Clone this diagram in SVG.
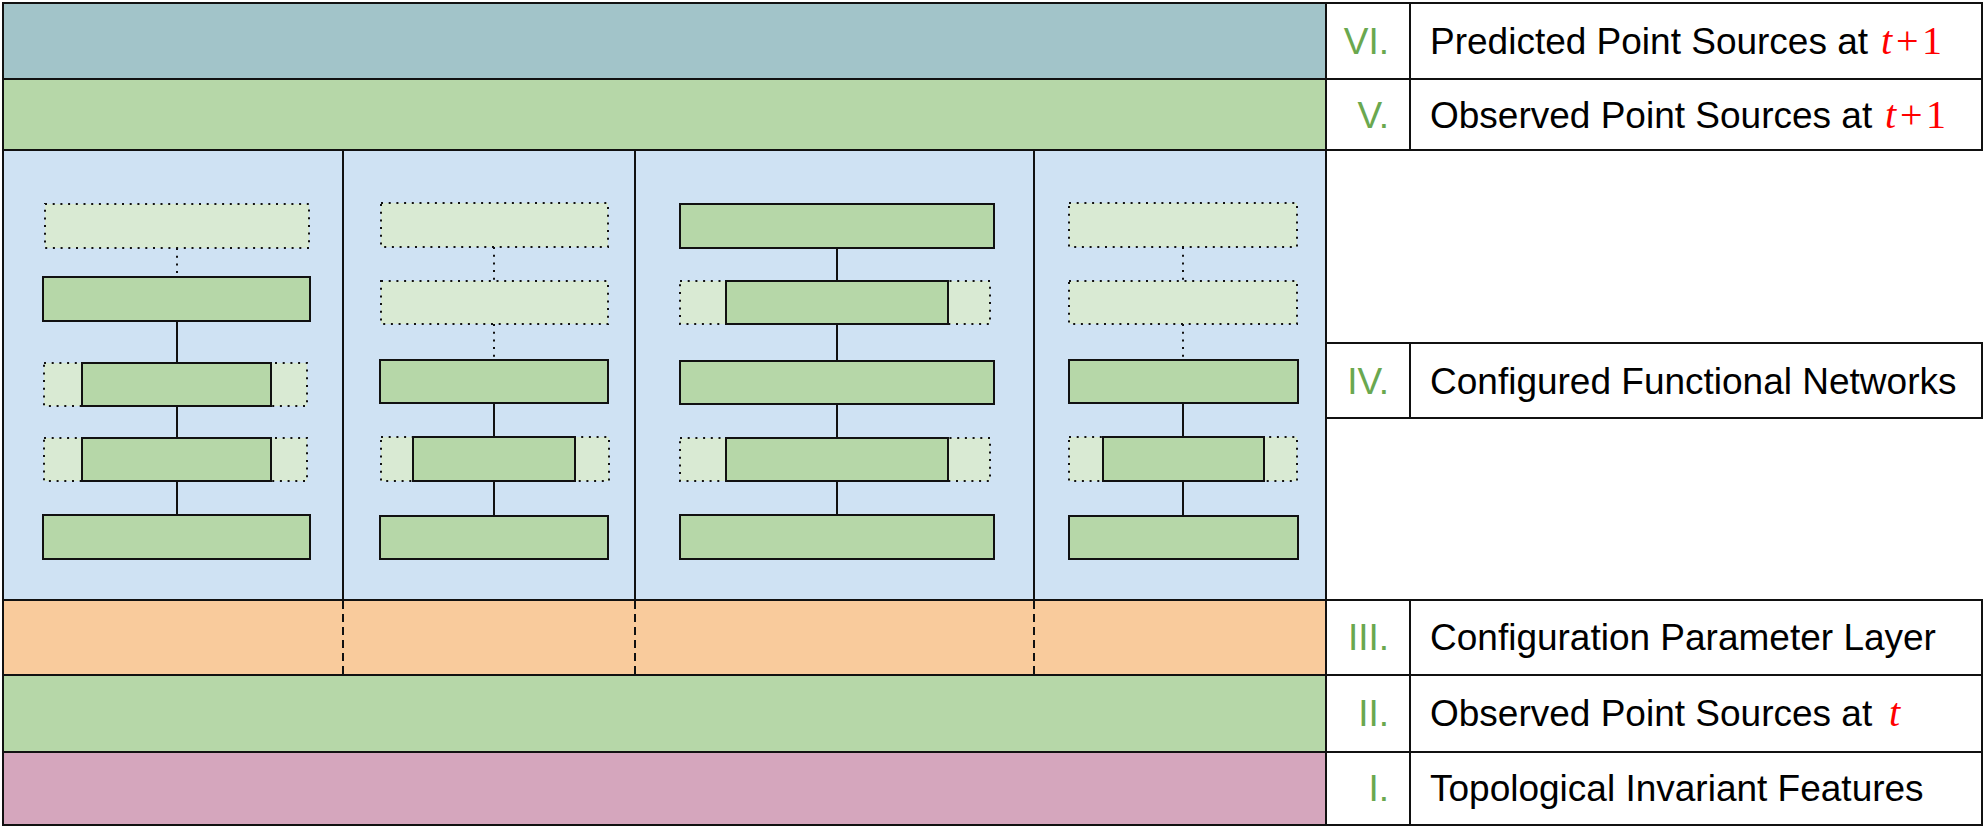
<svg xmlns="http://www.w3.org/2000/svg" width="1984" height="827" viewBox="0 0 1984 827">
<style>
.band{stroke:#111;stroke-width:2}
.div{stroke:#111;stroke-width:2;fill:none}
.dash{stroke:#111;stroke-width:2;stroke-dasharray:8 5;fill:none}
.solid{fill:#b6d7a8;stroke:#111;stroke-width:2}
.dot{fill:#d9ead3;stroke:#111;stroke-width:2;stroke-dasharray:2 5.7}
.cs{stroke:#111;stroke-width:2;fill:none}
.cd{stroke:#111;stroke-width:2;stroke-dasharray:2 5.7;fill:none}
.cell{fill:#fff;stroke:#111;stroke-width:2}
.lbl{font-family:"Liberation Sans",Arial,sans-serif;font-size:37px;fill:#000}
.num{font-family:"Liberation Sans",Arial,sans-serif;font-size:37px;fill:#6aa84f;text-anchor:end}
.m{font-family:"Liberation Serif","Times New Roman",serif;font-size:40px;font-style:italic;fill:#ff0000}
.r{font-family:"Liberation Serif","Times New Roman",serif;font-size:40px;fill:#ff0000}
</style>
<rect width="1984" height="827" fill="#fff"/>
<g id="bands">
<rect id="band-VI" class="band" x="3" y="3" width="1323" height="76" fill="#a2c4c9"/>
<rect id="band-V" class="band" x="3" y="79" width="1323" height="71" fill="#b6d7a8"/>
<rect id="band-IV" class="band" x="3" y="150" width="1323" height="450" fill="#cfe2f3"/>
<rect id="band-III" class="band" x="3" y="600" width="1323" height="75" fill="#f9cb9c"/>
<rect id="band-II" class="band" x="3" y="675" width="1323" height="77" fill="#b6d7a8"/>
<rect id="band-I" class="band" x="3" y="752" width="1323" height="73" fill="#d5a6bd"/>
</g>
<g id="dividers">
<line class="div" x1="343" y1="150" x2="343" y2="600"/>
<line class="div" x1="635" y1="150" x2="635" y2="600"/>
<line class="div" x1="1034" y1="150" x2="1034" y2="600"/>
<line class="dash" x1="343" y1="601" x2="343" y2="675"/>
<line class="dash" x1="635" y1="601" x2="635" y2="675"/>
<line class="dash" x1="1034" y1="601" x2="1034" y2="675"/>
</g>
<g id="connectors">
<line class="cd" x1="177" y1="248" x2="177" y2="277"/>
<line class="cs" x1="177" y1="321" x2="177" y2="363"/>
<line class="cs" x1="177" y1="406" x2="177" y2="438"/>
<line class="cs" x1="177" y1="481" x2="177" y2="515"/>
<line class="cd" x1="494" y1="247" x2="494" y2="281"/>
<line class="cd" x1="494" y1="324" x2="494" y2="360"/>
<line class="cs" x1="494" y1="403" x2="494" y2="437"/>
<line class="cs" x1="494" y1="481" x2="494" y2="516"/>
<line class="cs" x1="837" y1="248" x2="837" y2="281"/>
<line class="cs" x1="837" y1="324" x2="837" y2="361"/>
<line class="cs" x1="837" y1="404" x2="837" y2="438"/>
<line class="cs" x1="837" y1="481" x2="837" y2="515"/>
<line class="cd" x1="1183" y1="247" x2="1183" y2="281"/>
<line class="cd" x1="1183" y1="324" x2="1183" y2="360"/>
<line class="cs" x1="1183" y1="403" x2="1183" y2="437"/>
<line class="cs" x1="1183" y1="481" x2="1183" y2="516"/>
</g>
<g id="net1">
<g id="n1-1"><rect class="dot" x="45" y="204" width="264" height="44"/></g>
<g id="n1-2"><rect class="solid" x="43" y="277" width="267" height="44"/></g>
<g id="n1-3"><rect class="dot" x="44" y="363" width="263" height="43"/><rect class="solid" x="82" y="363" width="189" height="43"/></g>
<g id="n1-4"><rect class="dot" x="44" y="438" width="263" height="43"/><rect class="solid" x="82" y="438" width="189" height="43"/></g>
<g id="n1-5"><rect class="solid" x="43" y="515" width="267" height="44"/></g>
</g>
<g id="net2">
<g id="n2-1"><rect class="dot" x="381" y="203" width="227" height="44"/></g>
<g id="n2-2"><rect class="dot" x="381" y="281" width="227" height="43"/></g>
<g id="n2-3"><rect class="solid" x="380" y="360" width="228" height="43"/></g>
<g id="n2-4"><rect class="dot" x="381" y="437" width="228" height="44"/><rect class="solid" x="413" y="437" width="162" height="44"/></g>
<g id="n2-5"><rect class="solid" x="380" y="516" width="228" height="43"/></g>
</g>
<g id="net3">
<g id="n3-1"><rect class="solid" x="680" y="204" width="314" height="44"/></g>
<g id="n3-2"><rect class="dot" x="680" y="281" width="310" height="43"/><rect class="solid" x="726" y="281" width="222" height="43"/></g>
<g id="n3-3"><rect class="solid" x="680" y="361" width="314" height="43"/></g>
<g id="n3-4"><rect class="dot" x="680" y="438" width="310" height="43"/><rect class="solid" x="726" y="438" width="222" height="43"/></g>
<g id="n3-5"><rect class="solid" x="680" y="515" width="314" height="44"/></g>
</g>
<g id="net4">
<g id="n4-1"><rect class="dot" x="1069" y="203" width="228" height="44"/></g>
<g id="n4-2"><rect class="dot" x="1069" y="281" width="228" height="43"/></g>
<g id="n4-3"><rect class="solid" x="1069" y="360" width="229" height="43"/></g>
<g id="n4-4"><rect class="dot" x="1069" y="437" width="228" height="44"/><rect class="solid" x="1103" y="437" width="161" height="44"/></g>
<g id="n4-5"><rect class="solid" x="1069" y="516" width="229" height="43"/></g>
</g>
<g id="legend">
<g id="row-VI">
<rect class="cell" x="1326" y="3" width="84" height="76"/><rect class="cell" x="1410" y="3" width="572" height="76"/>
<text class="num" x="1389" y="54">VI.</text>
<text class="lbl" x="1430" y="54">Predicted Point Sources at<tspan class="m" x="1881">t</tspan><tspan class="r" x="1896">+</tspan><tspan class="r" x="1922">1</tspan></text>
</g>
<g id="row-V">
<rect class="cell" x="1326" y="79" width="84" height="71"/><rect class="cell" x="1410" y="79" width="572" height="71"/>
<text class="num" x="1389" y="128">V.</text>
<text class="lbl" x="1430" y="128">Observed Point Sources at<tspan class="m" x="1885">t</tspan><tspan class="r" x="1900">+</tspan><tspan class="r" x="1926">1</tspan></text>
</g>
<g id="row-IV">
<rect class="cell" x="1326" y="343" width="84" height="75"/><rect class="cell" x="1410" y="343" width="572" height="75"/>
<text class="num" x="1389" y="394">IV.</text>
<text class="lbl" x="1430" y="394">Configured Functional Networks</text>
</g>
<g id="row-III">
<rect class="cell" x="1326" y="600" width="84" height="75"/><rect class="cell" x="1410" y="600" width="572" height="75"/>
<text class="num" x="1389" y="650">III.</text>
<text class="lbl" x="1430" y="650">Configuration Parameter Layer</text>
</g>
<g id="row-II">
<rect class="cell" x="1326" y="675" width="84" height="77"/><rect class="cell" x="1410" y="675" width="572" height="77"/>
<text class="num" x="1389" y="726">II.</text>
<text class="lbl" x="1430" y="726">Observed Point Sources at<tspan class="m" x="1889">t</tspan></text>
</g>
<g id="row-I">
<rect class="cell" x="1326" y="752" width="84" height="73"/><rect class="cell" x="1410" y="752" width="572" height="73"/>
<text class="num" x="1389" y="801">I.</text>
<text class="lbl" x="1430" y="801">Topological Invariant Features</text>
</g>
</g>
</svg>
